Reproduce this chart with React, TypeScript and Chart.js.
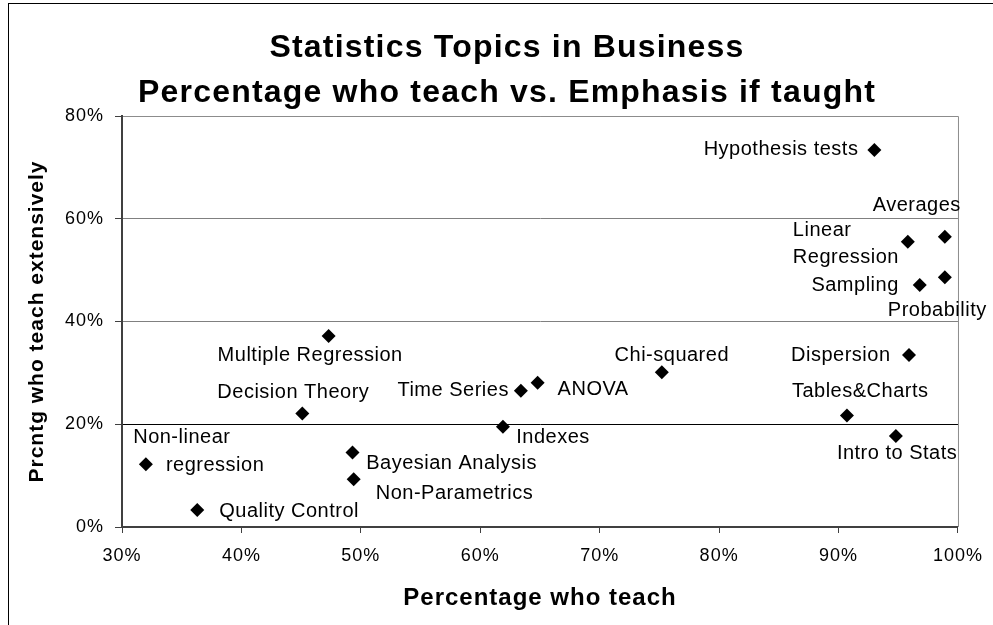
import React, { useEffect, useRef } from 'react';
import { Chart, registerables } from 'chart.js';

Chart.register(...registerables);

const FONT = "'Liberation Sans', Arial, Helvetica, sans-serif";

// ---- data ----
const titleLines = ['Statistics Topics in Business', 'Percentage who teach vs. Emphasis if taught'];
const xAxisTitle = 'Percentage who teach';
const yAxisTitle = 'Prcntg who teach extensively';

const topics = [
  'Hypothesis tests',
  'Averages',
  'Linear\nRegression',
  'Probability',
  'Sampling',
  'Dispersion',
  'Chi-squared',
  'Tables&Charts',
  'Intro to Stats',
  'ANOVA',
  'Time Series',
  'Indexes',
  'Multiple Regression',
  'Decision Theory',
  'Non-linear\nregression',
  'Bayesian Analysis',
  'Non-Parametrics',
  'Quality Control',
];

// percentage who teach (x)
const pctTeach = [93.0, 98.9, 95.8, 98.9, 96.8, 95.9, 75.2, 90.7, 94.8, 64.8, 63.4, 61.9, 47.3, 45.1, 32.0, 49.3, 49.4, 36.3];
// percentage who teach extensively (y)
const pctExtensive = [73.4, 56.5, 55.5, 48.6, 47.1, 33.5, 30.1, 21.7, 17.7, 28.1, 26.5, 19.5, 37.2, 22.1, 12.2, 14.5, 9.3, 3.3];

const xRange = [30, 100];
const xStep = 10;
const yRange = [0, 80];
const yStep = 20;

// ---- label placement (layout, relative to each marker) ----
type Placement = { align: CanvasTextAlign; dx: number | number[]; dy: number; gap?: number };
const labelPlacement: Placement[] = [
  { align: 'right', dx: -16, dy: 5 },
  { align: 'right', dx: 16, dy: -26 },
  { align: 'left', dx: -115, dy: -5.7, gap: 26.7 },
  { align: 'left', dx: -57, dy: 38.7 },
  { align: 'right', dx: -21, dy: 5.7 },
  { align: 'right', dx: -18.5, dy: 5.7 },
  { align: 'center', dx: 10, dy: -11.6 },
  { align: 'left', dx: -55, dy: -19 },
  { align: 'left', dx: -59, dy: 23 },
  { align: 'left', dx: 20, dy: 12.7 },
  { align: 'right', dx: -12, dy: 5 },
  { align: 'left', dx: 13.3, dy: 16.6 },
  { align: 'left', dx: -111, dy: 25.3 },
  { align: 'left', dx: -85, dy: -15 },
  { align: 'left', dx: [-12.7, 20], dy: -21.6, gap: 28 },
  { align: 'left', dx: 13.7, dy: 16 },
  { align: 'left', dx: 22, dy: 20 },
  { align: 'left', dx: 22, dy: 6.7 },
];

const decorPlugin = {
  id: 'decor',
  beforeDraw(chart: any) {
    const ctx = chart.ctx as CanvasRenderingContext2D;
    (ctx as any).letterSpacing = '1px';
    const a = chart.chartArea;
    ctx.save();
    // outer frame (top & left visible)
    ctx.strokeStyle = '#000';
    ctx.lineWidth = 1;
    ctx.strokeRect(8.5, 3.5, 3000, 3000);
    // plot area top/right border
    ctx.strokeStyle = '#8c8c8c';
    ctx.beginPath();
    ctx.moveTo(a.left, a.top + 0.5);
    ctx.lineTo(a.right + 0.5, a.top + 0.5);
    ctx.lineTo(a.right + 0.5, a.bottom);
    ctx.stroke();
    // title
    ctx.fillStyle = '#000';
    ctx.font = `bold 32px ${FONT}`;
    (ctx as any).letterSpacing = '1.2px';
    ctx.textAlign = 'center';
    ctx.textBaseline = 'alphabetic';
    ctx.fillText(titleLines[0], 507, 57);
    ctx.fillText(titleLines[1], 507, 102);
    ctx.restore();
  },
  afterDatasetsDraw(chart: any) {
    const ctx = chart.ctx as CanvasRenderingContext2D;
    const meta = chart.getDatasetMeta(0);
    ctx.save();
    ctx.font = `20px ${FONT}`;
    (ctx as any).letterSpacing = '0.5px';
    ctx.fillStyle = '#000';
    ctx.textBaseline = 'alphabetic';
    meta.data.forEach((pt: any, i: number) => {
      const p = labelPlacement[i];
      const lines = topics[i].split('\n');
      ctx.textAlign = p.align;
      lines.forEach((line, k) => {
        const dx = Array.isArray(p.dx) ? p.dx[k] : p.dx;
        ctx.fillText(line, pt.x + dx, pt.y + p.dy + k * (p.gap ?? 27));
      });
    });
    ctx.restore();
  },
};

export default function App() {
  const ref = useRef<HTMLCanvasElement | null>(null);

  useEffect(() => {
    document.body.style.margin = '0';
    document.body.style.overflow = 'hidden';
    Chart.defaults.font.family = FONT;
    Chart.defaults.color = '#000';
    const canvas = ref.current!;
    const chart = new Chart(canvas, {
      type: 'scatter',
      data: {
        datasets: [
          {
            label: 'Topics',
            data: pctTeach.map((x, i) => ({ x, y: pctExtensive[i] })),
            pointStyle: 'rectRot',
            pointRadius: 7,
            pointBackgroundColor: '#000',
            pointBorderColor: '#000',
            pointBorderWidth: 0,
          },
        ],
      },
      options: {
        responsive: false,
        animation: false,
        devicePixelRatio: 1,
        layout: { padding: { top: 116, right: 31, left: 0, bottom: 0 } },
        plugins: {
          legend: { display: false },
          title: { display: false },
          tooltip: { enabled: false },
        },
        events: [],
        scales: {
          x: {
            type: 'linear',
            min: xRange[0],
            max: xRange[1],
            ticks: {
              stepSize: xStep,
              callback: (v: any) => `${v}%`,
              font: { size: 18 },
              padding: 12,
              color: '#000',
              maxRotation: 0,
            },
            grid: { drawOnChartArea: false, tickLength: 6, tickColor: '#404040' },
            border: { color: '#404040', width: 2 },
            title: {
              display: true,
              text: xAxisTitle,
              font: { size: 24, weight: 'bold' },
              color: '#000',
              padding: { top: 0, bottom: 12.6 },
            },
            afterFit: (s: any) => {
              s.height = 98;
            },
          },
          y: {
            type: 'linear',
            min: yRange[0],
            max: yRange[1],
            ticks: {
              stepSize: yStep,
              callback: (v: any) => `${v}%`,
              font: { size: 18 },
              padding: 11,
              color: '#000',
            },
            grid: {
              color: (c: any) => (c.tick && c.tick.value === 20 ? '#000' : c.tick && c.tick.value === 80 ? '#8c8c8c' : '#808080'),
              tickLength: 7,
              tickColor: '#404040',
            },
            border: { color: '#404040', width: 2 },
            title: {
              display: true,
              text: yAxisTitle,
              font: { size: 21, weight: 'bold' },
              color: '#000',
              padding: { top: 24.4, bottom: 0 },
            },
            afterFit: (s: any) => {
              s.width = 122;
            },
          },
        },
      } as any,
      plugins: [decorPlugin],
    });
    return () => chart.destroy();
  }, []);

  return <canvas ref={ref} width={993} height={625} style={{ display: 'block' }} />;
}
